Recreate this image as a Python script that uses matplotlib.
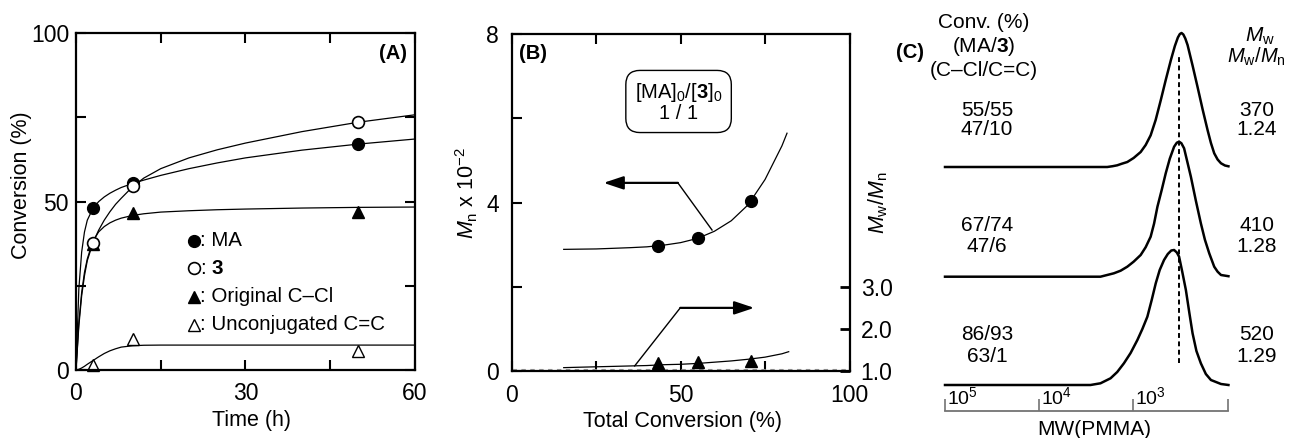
import matplotlib
matplotlib.use('Agg')
import matplotlib.pyplot as plt

plt.rcParams['font.family'] = ['Liberation Sans', 'DejaVu Sans']
plt.rcParams['mathtext.fontset'] = 'custom'
plt.rcParams['mathtext.rm'] = 'Liberation Sans'
plt.rcParams['mathtext.it'] = 'Liberation Sans:italic'
plt.rcParams['mathtext.bf'] = 'Liberation Sans:bold'

# ---- (A) conversion vs time ----
time_pts = [3, 10, 50]
conv_ma = [48.0, 55.4, 67.1]
conv_3 = [37.8, 54.5, 73.6]
conv_ccl = [37.5, 46.5, 47.0]
conv_cc = [1.5, 9.1, 5.7]

# fitted curves
time_fit = [0, 0.5, 1, 1.5, 2, 3, 4, 5, 6, 7, 8, 10, 12, 15, 20, 25, 30, 40, 50, 60]
fit_ma = [0, 24, 35, 41, 44.5, 48, 50, 51.4, 52.5, 53.4, 54.2, 55.4, 56.4, 57.8, 59.8, 61.5, 63.0, 65.3, 67.1, 68.6]
fit_3 = [0, 13, 22, 28, 32.5, 37.8, 41.5, 44.5, 47, 49.2, 51, 54.4, 57, 59.8, 63, 65.4, 67.4, 70.8, 73.6, 75.8]
fit_ccl = [0, 14, 23, 29, 33, 38.3, 41, 42.6, 43.7, 44.5, 45.1, 45.9, 46.4, 46.9, 47.3, 47.6, 47.8, 48.1, 48.3, 48.4]
fit_cc = [0, 0.2, 0.6, 1.1, 1.7, 2.8, 3.9, 4.9, 5.7, 6.3, 6.8, 7.2, 7.35, 7.4, 7.4, 7.4, 7.4, 7.4, 7.4, 7.4]

# ---- (B) Mn and Mw/Mn vs total conversion ----
total_conv = [43.4, 55.1, 70.8]
mn = [2.97, 3.16, 4.05]          # x 10^2
mwmn = [1.18, 1.22, 1.24]

conv_fit = [15.4, 20, 25, 30, 35, 40, 45, 50, 55, 60, 65, 70, 75, 80, 81.5]
fit_mn = [2.89, 2.895, 2.9, 2.915, 2.93, 2.95, 2.99, 3.05, 3.15, 3.32, 3.57, 3.95, 4.55, 5.35, 5.65]
conv_fit2 = [15.4, 20, 25, 30, 35, 40, 45, 50, 55, 60, 65, 70, 75, 80, 82]
fit_mwmn = [1.08, 1.09, 1.10, 1.11, 1.12, 1.13, 1.15, 1.16, 1.18, 1.21, 1.24, 1.28, 1.33, 1.41, 1.46]

# ---- (C) SEC traces (log MW, signal height) ----
logmw_1 = [5.0, 3.277, 3.22, 3.171, 3.125, 3.064, 2.997, 2.922, 2.869, 2.816, 2.763, 2.709, 2.656,
           2.602, 2.559, 2.527, 2.506, 2.488, 2.469, 2.448, 2.424, 2.371, 2.318, 2.264, 2.211,
           2.176, 2.141, 2.105, 2.069, 2.027, 1.99]
sig_1 = [0, 0, 0.8, 1.7, 3.2, 5, 9, 15, 22, 31.7, 47, 66.7, 87, 106.7, 121, 129.5, 133, 134,
         132.5, 128.5, 122, 101.5, 80, 57.5, 36.7, 24, 13.7, 7.5, 3.7, 1.5, 0.7]
logmw_2 = [5.0, 3.349, 3.207, 3.135, 3.064, 2.997, 2.922, 2.869, 2.816, 2.780, 2.744, 2.698, 2.656,
           2.613, 2.567, 2.538, 2.514, 2.490, 2.461, 2.427, 2.389, 2.336, 2.283, 2.240, 2.194,
           2.141, 2.105, 2.069, 1.99]
sig_2 = [0, 0, 3.4, 6, 10, 15, 21.7, 29.5, 40, 53, 70, 87, 103.4, 118, 130, 134, 135, 133.5,
         128.4, 115, 100, 76, 53.4, 37, 23.4, 10, 5, 1.7, 0.5]
logmw_3 = [5.0, 3.455, 3.349, 3.242, 3.171, 3.100, 3.029, 2.957, 2.904, 2.851, 2.805, 2.762, 2.720,
           2.674, 2.634, 2.597, 2.567, 2.538, 2.514, 2.480, 2.442, 2.405, 2.371, 2.330, 2.283,
           2.230, 2.176, 2.069, 1.99]
sig_3 = [0, 0, 1.7, 6.7, 13, 21.7, 32, 45, 56, 68.3, 85, 101.7, 115, 125, 131, 134.5, 135, 132.5,
         128.3, 113, 95, 72, 51.7, 34, 21.7, 11, 5, 1, 0]
sec_conv_ma3 = ['55/55', '67/74', '86/93']
sec_conv_ccl = ['47/10', '47/6', '63/1']
sec_mw = ['370', '410', '520']
sec_pdi = ['1.24', '1.28', '1.29']
mw_ticks = [5, 4, 3, 2]
mw_ticklabels = ['$10^5$', '$10^4$', '$10^3$', '']

W, H = 1289, 438
fig = plt.figure(figsize=(W / 100, H / 100), dpi=100)


def px_axes(x0, y0, x1, y1):
    # axes from pixel box (left, top, right, bottom)
    return fig.add_axes([x0 / W, 1 - y1 / H, (x1 - x0) / W, (y1 - y0) / H])


def frame(ax, lw=1.6):
    for s in ax.spines.values():
        s.set_linewidth(lw)


tick_fs = 16.5
lab_fs = 15.5

# ----- panel A -----
axA = px_axes(76, 33.3, 415, 370)
frame(axA)
axA.plot(time_fit, fit_ma, color='k', lw=0.9)
axA.plot(time_fit, fit_3, color='k', lw=0.9)
axA.plot(time_fit, fit_ccl, color='k', lw=0.9)
axA.plot(time_fit, fit_cc, color='k', lw=0.9)
axA.plot(time_pts, conv_ccl, '^', ms=9, color='k', clip_on=False)
axA.plot(time_pts, conv_cc, '^', ms=9, mfc='white', mec='k', mew=1.0, clip_on=False)
axA.plot(time_pts, conv_ma, 'o', ms=8.5, color='k', clip_on=False)
axA.plot(time_pts, conv_3, 'o', ms=8.5, mfc='white', mec='k', mew=1.2, clip_on=False)
axA.set_xlim(0, 60)
axA.set_ylim(0, 100)
axA.set_xticks([0, 15, 30, 45, 60], ['0', '', '30', '', '60'])
axA.set_yticks([0, 25, 50, 75, 100], ['0', '', '50', '', '100'])
axA.tick_params(direction='in', top=True, right=True, length=7, width=1.5, labelsize=tick_fs)
axA.tick_params(axis='x', pad=9)
axA.tick_params(axis='y', pad=5)
axA.set_xlabel('Time (h)', fontsize=lab_fs)
axA.set_ylabel('Conversion (%)', fontsize=lab_fs)
axA.xaxis.set_label_coords(0.518, -0.12)
axA.yaxis.set_label_coords(-0.13, 0.55)
axA.text(58.5, 94.1, '(A)', ha='right', va='center', fontsize=14.5, fontweight='bold')

# legend drawn by hand, like the original
leg_y = [38.4, 30.2, 21.8, 13.4]
leg_txt = [': MA', ': $\\mathbf{3}$', ': Original C\u2013Cl', ': Unconjugated C=C']
axA.plot(20.8, leg_y[0], 'o', ms=8.5, color='k')
axA.plot(20.8, leg_y[1], 'o', ms=8.5, mfc='white', mec='k', mew=1.2)
axA.plot(20.8, leg_y[2], '^', ms=9, color='k')
axA.plot(20.8, leg_y[3], '^', ms=9, mfc='white', mec='k', mew=1.0)
for y, t in zip(leg_y, leg_txt):
    axA.text(21.9, y, t, ha='left', va='center', fontsize=14.8)

# ----- panel B -----
axB = px_axes(511.7, 34.3, 849.5, 371)
frame(axB)
axB.plot(conv_fit, fit_mn, color='k', lw=0.9)
axB.plot(total_conv, mn, 'o', ms=8.5, color='k', clip_on=False)
axB.set_xlim(0, 100)
axB.set_ylim(0, 8)
axB.set_xticks([0, 25, 50, 75, 100], ['0', '', '50', '', '100'])
axB.set_yticks([0, 2, 4, 6, 8], ['0', '', '4', '', '8'])
axB.tick_params(direction='in', top=True, right=False, length=7, width=1.5, labelsize=tick_fs)
axB.tick_params(axis='x', pad=9)
axB.tick_params(axis='y', pad=9)
axB.set_xlabel('Total Conversion (%)', fontsize=lab_fs)
axB.set_ylabel('$M_\\mathrm{n}$ x 10$^{-2}$', fontsize=lab_fs)
axB.xaxis.set_label_coords(0.507, -0.12)
axB.yaxis.set_label_coords(-0.094, 0.53)
axB.axhline(0.05, color='0.6', lw=0.8, ls=(0, (4, 4)))
axB.text(6.4, 7.54, '(B)', ha='center', va='center', fontsize=14.5, fontweight='bold')
axB.text(49.4, 6.38, '[MA]$_0$/[$\\mathbf{3}$]$_0$\n1 / 1', ha='center', va='center',
         fontsize=14.5, linespacing=1.0,
         bbox=dict(boxstyle='round,pad=0.45,rounding_size=0.7', fc='white', ec='k', lw=1.0))

head = '-|>,head_length=0.6,head_width=0.2'
axB.plot([59.3, 49.2], [3.35, 4.47], color='k', lw=1)
axB.annotate('', xy=(27.2, 4.47), xytext=(49.2, 4.47),
             arrowprops=dict(arrowstyle=head, color='k', lw=1.6, mutation_scale=20,
                             shrinkA=0, shrinkB=0))
axB.plot([36.4, 49.9], [0.12, 1.50], color='k', lw=1)
axB.annotate('', xy=(71.8, 1.50), xytext=(49.9, 1.50),
             arrowprops=dict(arrowstyle=head, color='k', lw=1.6, mutation_scale=20,
                             shrinkA=0, shrinkB=0))

axB2 = axB.twinx()
axB2.plot(conv_fit2, fit_mwmn, color='k', lw=0.9)
axB2.plot(total_conv, mwmn, '^', ms=9, color='k', clip_on=False)
axB2.set_ylim(1.0, 9.02)
axB2.set_yticks([1, 2, 3], ['1.0', '2.0', '3.0'])
axB2.tick_params(direction='in', length=7, width=2, labelsize=tick_fs, pad=8)
axB2.set_ylabel('$M_\\mathrm{w}/M_\\mathrm{n}$', fontsize=lab_fs)
axB2.yaxis.set_label_coords(1.05, 0.5)
for s in axB2.spines.values():
    s.set_visible(False)

# ----- panel C -----
axC = px_axes(945, 20, 1227.5, 411)
axC.set_xlim(5, 2)
axC.set_ylim(0, 391)
for side in ['top', 'left', 'right']:
    axC.spines[side].set_visible(False)
axC.spines['bottom'].set_color('0.45')
axC.spines['bottom'].set_linewidth(1.3)
axC.set_yticks([])
axC.set_xticks(mw_ticks, [''] * len(mw_ticks))
axC.tick_params(axis='x', direction='in', length=9, width=1.2, color='0.45')
for x, lab in zip(mw_ticks, mw_ticklabels):
    axC.text(x - 0.02, 3, lab, ha='left', va='bottom', fontsize=14)
axC.set_xlabel('MW(PMMA)', fontsize=15)
axC.xaxis.set_label_coords(0.527, -0.022)

offsets = [244, 134.3, 26]
for lm, sg, off in zip([logmw_1, logmw_2, logmw_3], [sig_1, sig_2, sig_3], offsets):
    axC.plot(lm, [off + v for v in sg], color='k', lw=1.8, clip_on=False)
axC.plot([2.51, 2.51], [48, 356], color='k', lw=1.4, ls=(0, (2.5, 1.8)))

fs = 15


def ftext(x, y, s, **kw):
    ha = kw.pop('ha', 'center')
    fig.text(x / W, 1 - y / H, s, ha=ha, va='center', fontsize=kw.pop('fontsize', fs), **kw)


ftext(910, 53, '(C)', fontweight='bold', fontsize=14.5)
ftext(984, 22, 'Conv. (%)')
ftext(984, 46.5, '(MA/$\\mathbf{3}$)')
ftext(984, 70, '(C\u2013Cl/C=C)')
ftext(1260, 36, '$M_\\mathrm{w}$')
ftext(1286, 57, '$M_\\mathrm{w}/M_\\mathrm{n}$', ha='right', fontsize=14.5)
row_y = [(110, 130), (225, 246.7), (335, 356.7)]
for (y1, y2), a, b, c, d in zip(row_y, sec_conv_ma3, sec_conv_ccl, sec_mw, sec_pdi):
    ftext(987, y1, a)
    ftext(987, y2, b)
    ftext(1257, y1, c)
    ftext(1257, y2, d)

fig.savefig('out.png', dpi=100)
